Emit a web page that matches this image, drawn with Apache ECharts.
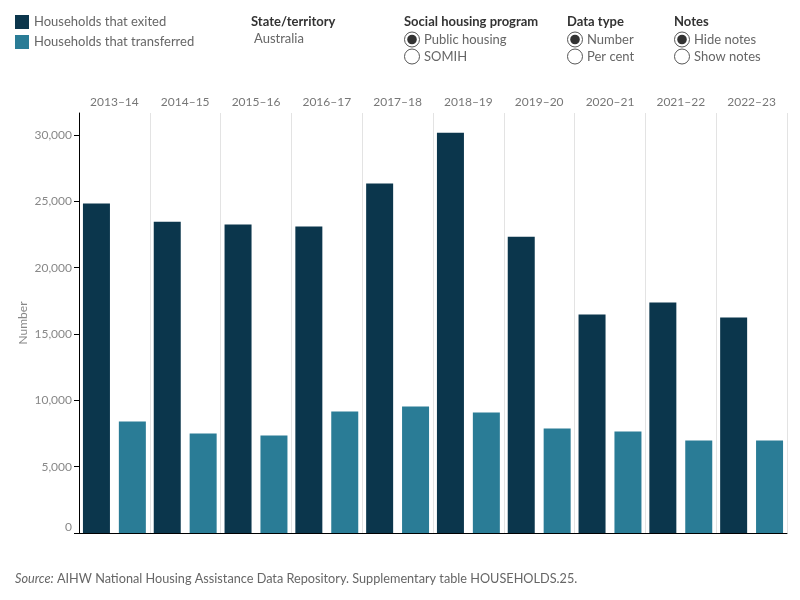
<!DOCTYPE html>
<html>
<head>
<meta charset="utf-8">
<script src="https://cdn.jsdelivr.net/npm/echarts@6/dist/echarts.min.js"></script>
<style>
  html, body { margin: 0; padding: 0; background: #fff; }
  #chart { width: 800px; height: 600px; }
</style>
</head>
<body>
<div id="chart"></div>
<script>
// values
const years = ['2013–14', '2014–15', '2015–16', '2016–17', '2017–18', '2018–19', '2019–20', '2020–21', '2021–22', '2022–23']
const exited = [24830, 23470, 23250, 23100, 26340, 30180, 22340, 16470, 17370, 16240]
const transferred = [8400, 7500, 7350, 9160, 9530, 9080, 7880, 7650, 6970, 6970]
const yTicks = [0, 5000, 10000, 15000, 20000, 25000, 30000]

const FONT = 'Lato, "Noto Sans", sans-serif'
const DARK = '#0b364c'
const TEAL = '#2a7c96'

// radio button helper for the filter panel
function radio(cx, cy, checked, label) {
    const els = [
        { type: 'circle', shape: { cx: cx, cy: cy, r: 7.5 }, style: { fill: '#fff', stroke: '#555', lineWidth: 1 } },
        { type: 'text', x: cx + 12, y: cy, style: { text: label, fill: '#666', font: '13px ' + FONT, verticalAlign: 'middle' } }
    ]
    if (checked) {
        els.push({ type: 'circle', shape: { cx: cx, cy: cy, r: 4.8 }, style: { fill: '#333' } })
    }
    return els
}
function heading(x, text) {
    return { type: 'text', x: x, y: 22, style: { text: text, fill: '#333', font: 'bold 13px ' + FONT, verticalAlign: 'middle' } }
}

const chart = echarts.init(document.getElementById('chart'))
const option = {
    animation: false,
    textStyle: { fontFamily: FONT },
    legend: {
        orient: 'vertical',
        left: 15,
        top: 15,
        padding: 0,
        itemWidth: 14,
        itemHeight: 14,
        itemGap: 6,
        icon: 'rect',
        textStyle: { color: '#666', fontSize: 13, lineHeight: 14, fontFamily: FONT },
        data: ['Households that exited', 'Households that transferred']
    },
    grid: { left: 79, right: 13, top: 113, bottom: 67 },
    xAxis: [
        {
            type: 'category',
            position: 'top',
            data: years,
            axisLine: { show: false },
            axisTick: { show: false },
            axisLabel: { color: '#777', fontSize: 12, margin: 5, fontFamily: FONT },
            splitLine: { show: true, lineStyle: { color: '#e3e3e3', width: 1 } }
        },
        {
            type: 'category',
            position: 'bottom',
            data: years,
            axisLine: { show: true, lineStyle: { color: '#000', width: 1 } },
            axisTick: { show: false },
            axisLabel: { show: false },
            splitLine: { show: false }
        }
    ],
    yAxis: {
        type: 'value',
        min: 0,
        max: 31660,
        axisLine: { show: true, lineStyle: { color: '#000', width: 1 } },
        axisTick: { show: true, length: 5, lineStyle: { color: '#000' }, customValues: yTicks },
        axisLabel: {
            color: '#888',
            fontSize: 12,
            margin: 7,
            fontFamily: FONT,
            customValues: yTicks,
            verticalAlignMinLabel: 'bottom',
            formatter: v => v.toLocaleString('en-US')
        },
        splitLine: { show: false }
    },
    series: [
        {
            name: 'Households that exited',
            type: 'bar',
            xAxisIndex: 0,
            barWidth: 27,
            barGap: '33%',
            itemStyle: { color: DARK },
            data: exited
        },
        {
            name: 'Households that transferred',
            type: 'bar',
            xAxisIndex: 0,
            barWidth: 27,
            barGap: '33%',
            itemStyle: { color: TEAL },
            data: transferred
        }
    ],
    graphic: [
        // y axis title
        {
            type: 'text',
            x: 23,
            y: 323,
            rotation: Math.PI / 2,
            style: { text: 'Number', fill: '#888', font: '12px ' + FONT, align: 'center', verticalAlign: 'middle' }
        },
        heading(251, 'State/territory'),
        { type: 'text', x: 254, y: 39, style: { text: 'Australia', fill: '#666', font: '13px ' + FONT, verticalAlign: 'middle' } },
        heading(404, 'Social housing program'),
        ...radio(412, 39.5, true, 'Public housing'),
        ...radio(412, 56.5, false, 'SOMIH'),
        heading(567, 'Data type'),
        ...radio(575, 39.5, true, 'Number'),
        ...radio(575, 56.5, false, 'Per cent'),
        heading(674, 'Notes'),
        ...radio(682, 39.5, true, 'Hide notes'),
        ...radio(682, 56.5, false, 'Show notes'),
        {
            type: 'text',
            x: 15,
            y: 579,
            style: {
                text: '{i|Source:} AIHW National Housing Assistance Data Repository. Supplementary table HOUSEHOLDS.25.',
                fill: '#666',
                font: '12.7px ' + FONT,
                verticalAlign: 'middle',
                rich: { i: { fontStyle: 'italic', fill: '#666', fontSize: 12.7, fontFamily: FONT } }
            }
        }
    ]
}
chart.setOption(option)
</script>
</body>
</html>
